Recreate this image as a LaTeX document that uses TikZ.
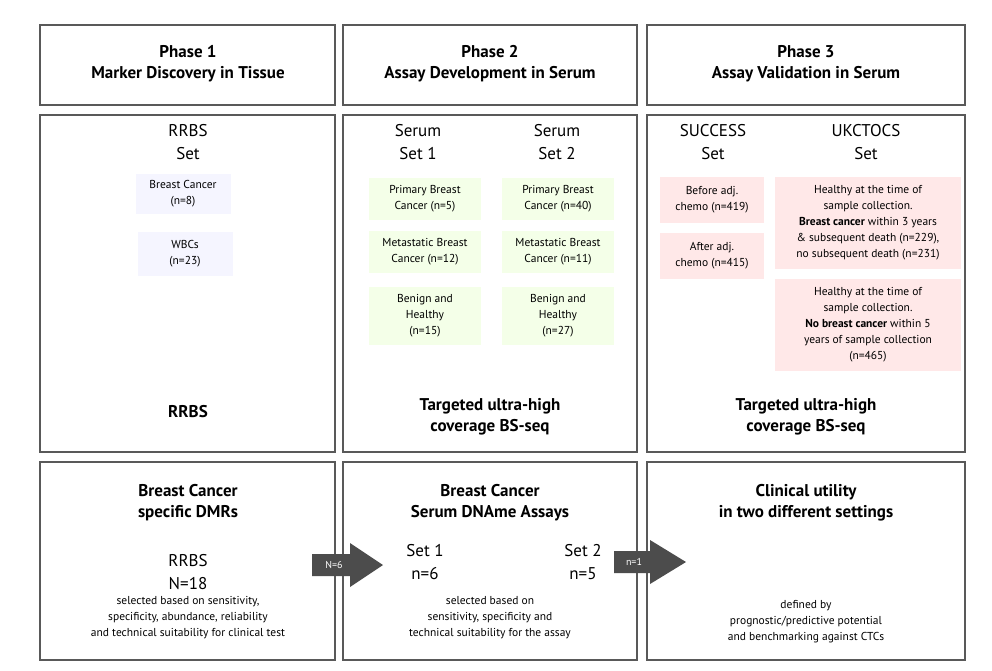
\documentclass[tikz,border=0pt]{standalone}
\usepackage{fontspec}
\setmainfont{PT Sans}
\begin{document}
\begin{tikzpicture}[x=1pt,y=-1pt,
 panel/.style={draw=black!65,line width=1.6pt},
 ttl/.style={font=\fontsize{17}{21}\selectfont\bfseries,align=center},
 setl/.style={font=\fontsize{17}{23}\selectfont,align=center},
 sm/.style={font=\fontsize{11.5}{16}\selectfont,align=center},
 lav/.style={sm,fill=blue!4,inner sep=2pt,minimum width=95pt},
 grn/.style={sm,fill=green!50!yellow!9,inner sep=2pt,minimum width=112pt},
 pnk/.style={sm,fill=red!9,inner sep=2pt},
 arr/.style={fill=black!70,draw=none}]
\useasboundingbox (0,0) rectangle (992,670);
\fill[white] (0,0) rectangle (992,670);
% panels
\foreach \xa/\xb/\n in {40/335/a,343/637/b,647/965/c}{
 \draw[panel] (\xa,25) rectangle (\xb,105);
 \draw[panel] (\xa,115) rectangle (\xb,452);
 \draw[panel] (\xa,462) rectangle (\xb,660);}
\node[ttl] (t1) at (188,64) {Phase 1\\Marker Discovery in Tissue};
\node[ttl] (t2) at (490,64) {Phase 2\\Assay Development in Serum};
\node[ttl] (t3) at (806,64) {Phase 3\\Assay Validation in Serum};
% col1
\node[setl] (s1) at (188,142) {RRBS\\Set};
\node[lav,minimum height=40pt] (bc) at (183,194) {Breast Cancer\\(n=8)};
\node[lav,minimum height=44pt] (wb) at (185,254) {WBCs\\(n=23)};
\node[ttl] (m1) at (188,412) {RRBS};
% col2
\node[setl] (s21) at (418,142) {Serum\\Set 1};
\node[setl] (s22) at (557,142) {Serum\\Set 2};
\node[grn,minimum height=42pt] (g1) at (425,199) {Primary Breast\\Cancer (n=5)};
\node[grn,minimum height=42pt] (g2) at (425,252) {Metastatic Breast\\Cancer (n=12)};
\node[grn,minimum height=58pt] (g3) at (425,316) {Benign and\\Healthy\\(n=15)};
\node[grn,minimum height=42pt] (g4) at (558,199) {Primary Breast\\Cancer (n=40)};
\node[grn,minimum height=42pt] (g5) at (558,252) {Metastatic Breast\\Cancer (n=11)};
\node[grn,minimum height=58pt] (g6) at (558,316) {Benign and\\Healthy\\(n=27)};
\node[ttl] (m2) at (490,417) {Targeted ultra-high\\coverage BS-seq};
% col3
\node[setl] (s31) at (713,142) {SUCCESS\\Set};
\node[setl] (s32) at (866,142) {UKCTOCS\\Set};
\node[pnk,minimum width=104pt,minimum height=46pt] (p1) at (712,200) {Before adj.\\chemo (n=419)};
\node[pnk,minimum width=104pt,minimum height=46pt] (p2) at (712,256) {After adj.\\chemo (n=415)};
\node[pnk,minimum width=186pt,minimum height=92pt] (p3) at (868,223) {Healthy at the time of\\sample collection.\\\textbf{Breast cancer} within 3 years\\\& subsequent death (n=229),\\no subsequent death (n=231)};
\node[pnk,minimum width=186pt,minimum height=92pt] (p4) at (868,325) {Healthy at the time of\\sample collection.\\\textbf{No breast cancer} within 5\\years of sample collection\\(n=465)};
\node[ttl] (m3) at (806,417) {Targeted ultra-high\\coverage BS-seq};
% row3
\node[ttl] (r1) at (188,503) {Breast Cancer\\specific DMRs};
\node[setl] (r1n) at (188,572) {RRBS\\N=18};
\node[sm] (r1t) at (188,618) {selected based on sensitivity,\\specificity, abundance, reliability\\and technical suitability for clinical test};
\node[ttl] (r2) at (490,503) {Breast Cancer\\Serum DNAme Assays};
\node[setl] (r2a) at (425,562) {Set 1\\n=6};
\node[setl] (r2b) at (583,562) {Set 2\\n=5};
\node[sm] (r2t) at (490,618) {selected based on\\sensitivity, specificity and\\technical suitability for the assay};
\node[ttl] (r3) at (806,503) {Clinical utility\\in two different settings};
\node[sm] (r3t) at (806,622) {defined by\\prognostic/predictive potential\\and benchmarking against CTCs};
% arrows
\fill[arr] (312,554) -- (350,554) -- (350,543) -- (383,565) -- (350,587) -- (350,576) -- (312,576) -- cycle;
\node[font=\fontsize{10}{12}\selectfont,text=white] (a1) at (334,565) {N=6};
\fill[arr] (614,551) -- (650,551) -- (650,540) -- (686,562) -- (650,584) -- (650,573) -- (614,573) -- cycle;
\node[font=\fontsize{10}{12}\selectfont,text=white] (a2) at (634,562) {n=1};
\end{tikzpicture}
\end{document}
